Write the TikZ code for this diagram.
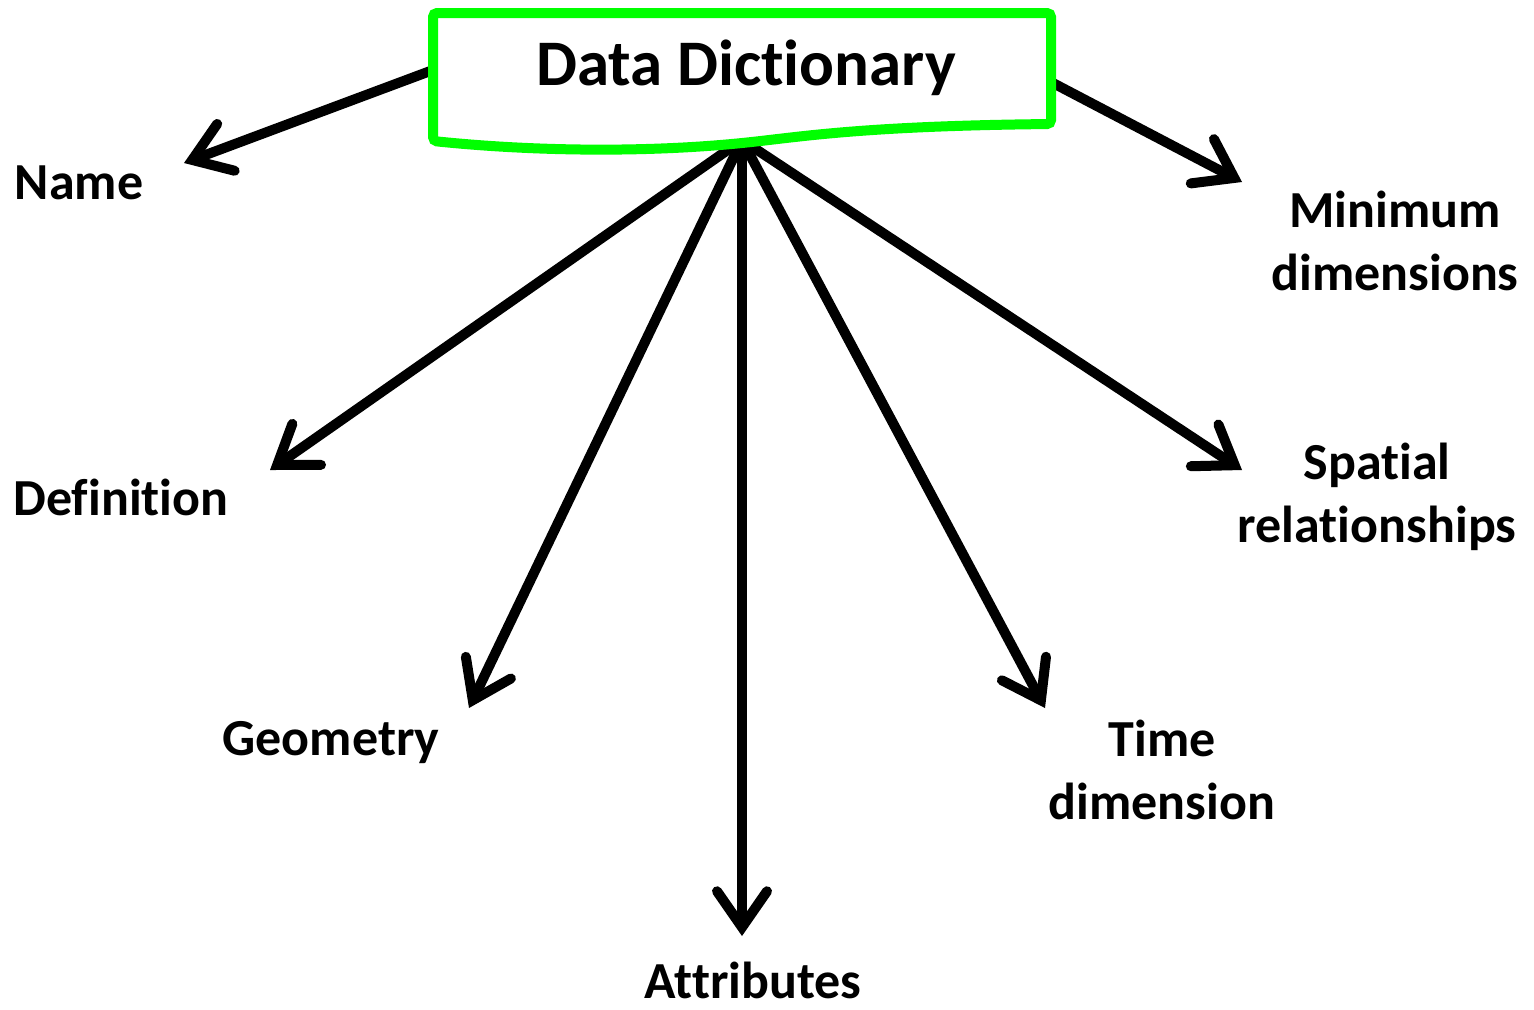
\documentclass[tikz,border=0pt]{standalone}
\usepackage{fontspec}
\setmainfont{Carlito}[RawFeature={-liga}]
\usetikzlibrary{arrows.meta}
\definecolor{docgreen}{RGB}{0,255,0}
\begin{document}
\begin{tikzpicture}[x=0.5pt,y=-0.5pt,
  arr/.style={line width=5pt, line cap=round,
    -{Straight Barb[length=18pt,width=25pt,line cap=round]}},
  lbl/.style={font=\fontsize{26}{31.5}\selectfont\bfseries, align=center, inner sep=0pt},
  docshape/.style={draw=docgreen, line width=5pt, fill=white, rounded corners=2pt}]
\useasboundingbox (0,0) rectangle (1534,1009);

% anchor points on the document shape
\coordinate (hub) at (742,140);
\coordinate (leftsrc) at (433,70);
\coordinate (rightsrc) at (1051,82);

% arrow tips
\coordinate (tName) at (184,163);
\coordinate (tDef) at (270,470);
\coordinate (tGeo) at (469,708);
\coordinate (tAttr) at (742,936);
\coordinate (tTime) at (1045,708);
\coordinate (tSpat) at (1242,470);
\coordinate (tMin) at (1242,182);

% connectors
\draw[arr] (leftsrc) -- (tName);
\draw[arr] (hub) -- (tDef);
\draw[arr] (hub) -- (tGeo);
\draw[arr] (hub) -- (tAttr);
\draw[arr] (hub) -- (tTime);
\draw[arr] (hub) -- (tSpat);
\draw[arr] (rightsrc) -- (tMin);

% document shape with wavy bottom
\draw[docshape] (433,13) -- (1051,13) -- (1051,124)
  .. controls (860,126) and (800,137) .. (742,143)
  .. controls (650,152) and (540,152) .. (433,141) -- cycle;
\node[font=\fontsize{32.5}{39}\selectfont\bfseries, inner sep=0pt] (dd) at (746,68) {Data Dictionary};

% labels
\node[lbl] (name) at (79,183) {Name};
\node[lbl] (def) at (121,497) {Definition};
\node[lbl] (geo) at (331,743) {Geometry};
\node[lbl] (attr) at (753,980) {Attributes};
\node[lbl] (time) at (1162,770) {Time\\dimension};
\node[lbl] (spat) at (1377,497) {Spatial\\relationships};
\node[lbl] (min) at (1395,241) {Minimum\\dimensions};
\end{tikzpicture}
\end{document}
